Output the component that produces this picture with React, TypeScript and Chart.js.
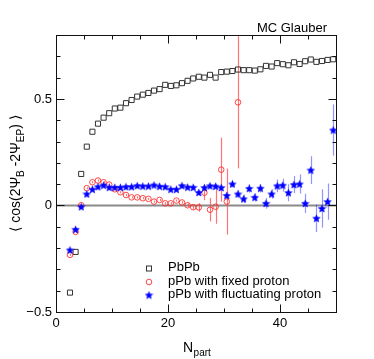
import React, { useEffect, useRef } from 'react';
import { Chart, registerables } from 'chart.js';

Chart.register(...registerables);

// ---- data ----
const NPART = [
  2.5, 3.5, 4.5, 5.5, 6.5, 7.5, 8.5, 9.5, 10.5, 11.5, 12.5, 13.5, 14.5, 15.5, 16.5, 17.5,
  18.5, 19.5, 20.5, 21.5, 22.5, 23.5, 24.5, 25.5, 26.5, 27.5, 28.5, 29.5, 30.5, 31.5, 32.5, 33.5,
  34.5, 35.5, 36.5, 37.5, 38.5, 39.5, 40.5, 41.5, 42.5, 43.5, 44.5, 45.5, 46.5, 47.5, 48.5, 49.5,
];

const PBPB = [
  -0.409, -0.218, 0.148, 0.276, 0.346, 0.384, 0.412, 0.433, 0.455, 0.459, 0.48, 0.495, 0.511, 0.52, 0.528, 0.539,
  0.546, 0.566, 0.561, 0.564, 0.574, 0.585, 0.596, 0.604, 0.6, 0.613, 0.6, 0.626, 0.628, 0.631, 0.638, 0.635,
  0.635, 0.633, 0.639, 0.655, 0.652, 0.668, 0.663, 0.658, 0.672, 0.664, 0.677, 0.685, 0.674, 0.678, 0.683, 0.686,
];

const PPB_FIXED = [
  -0.232, -0.124, 0.001, 0.081, 0.109, 0.117, 0.109, 0.098, 0.076, 0.062, 0.049, 0.038, 0.038, 0.034, 0.031, 0.018,
  0.026, 0.01, 0.01, 0.023, 0.014, 0.001, -0.008, -0.009, 0.06, -0.02, -0.006, 0.168, 0.018, null, 0.484,
];
const PPB_FIXED_ERR = [
  0.005, 0.005, 0.005, 0.005, 0.005, 0.005, 0.005, 0.005, 0.005, 0.005, 0.005, 0.005, 0.005, 0.005, 0.005, 0.005,
  0.005, 0.005, 0.005, 0.005, 0.006, 0.008, 0.01, 0.02, 0.035, 0.055, 0.08, 0.15, 0.155, 0, 0.31,
];

const PPB_FLUCT = [
  -0.209, -0.112, -0.006, 0.054, 0.076, 0.088, 0.095, 0.085, 0.085, 0.085, 0.088, 0.088, 0.093, 0.091, 0.091, 0.096,
  0.09, 0.088, 0.076, 0.076, 0.093, 0.086, 0.085, 0.061, 0.084, 0.092, 0.09, 0.084, 0.047, 0.101, 0.054, 0.031,
  0.08, 0.038, 0.081, 0.01, 0.054, 0.092, 0.095, 0.06, 0.098, 0.101, 0.01, 0.166, -0.06, -0.014, 0.018, 0.354,
];
const PPB_FLUCT_ERR = [
  0.005, 0.005, 0.005, 0.005, 0.005, 0.005, 0.005, 0.005, 0.005, 0.005, 0.005, 0.005, 0.005, 0.005, 0.005, 0.005,
  0.005, 0.005, 0.006, 0.006, 0.007, 0.008, 0.008, 0.01, 0.01, 0.01, 0.012, 0.012, 0.015, 0.015, 0.018, 0.02,
  0.02, 0.02, 0.02, 0.025, 0.022, 0.03, 0.03, 0.04, 0.04, 0.045, 0.045, 0.065, 0.065, 0.09, 0.085, 0.12,
];

const X_MAJOR = [0, 20, 40];
const X_LABELS = ['0', '20', '40'];
const Y_MAJOR = [-0.5, 0, 0.5];
const Y_LABELS = ['\u22120.5', '0', '0.5'];

const LEGEND_LABELS = ['PbPb', 'pPb with fixed proton', 'pPb with fluctuating proton'];
const TITLE = 'MC Glauber';

const FONT = "'Liberation Sans', Arial, Helvetica, sans-serif";
const RED = 'rgba(255,40,40,0.85)';
const RED_BAR = 'rgba(255,70,70,0.75)';
const BLUE = '#0000ff';
const BLUE_BAR = 'rgba(60,60,255,0.55)';
const GREY = '#333333';

function makeStar(size: number, color: string) {
  const c = document.createElement('canvas');
  c.width = size;
  c.height = size;
  const g = c.getContext('2d')!;
  const cx = size / 2;
  const cy = size / 2 + 0.4;
  const R = size / 2;
  const r = R * 0.45;
  g.beginPath();
  for (let i = 0; i < 10; i++) {
    const a = -Math.PI / 2 + (i * Math.PI) / 5;
    const rr = i % 2 ? r : R;
    g.lineTo(cx + rr * Math.cos(a), cy + rr * Math.sin(a));
  }
  g.closePath();
  g.fillStyle = color;
  g.fill();
  return c;
}

const decorPlugin = {
  id: 'decor',
  beforeDatasetsDraw(chart: any) {
    const { ctx, chartArea: a, scales } = chart;
    const x = scales.x;
    const y = scales.y;
    ctx.save();
    ctx.beginPath();
    ctx.rect(a.left, a.top, a.right - a.left, a.bottom - a.top);
    ctx.clip();
    // zero line
    const y0 = y.getPixelForValue(0);
    ctx.strokeStyle = '#8a8a8a';
    ctx.lineWidth = 2;
    ctx.beginPath();
    ctx.moveTo(a.left, y0);
    ctx.lineTo(a.right, y0);
    ctx.stroke();
    // error bars
    chart.data.datasets.forEach((ds: any) => {
      if (!ds.errors) return;
      ctx.strokeStyle = ds.errorColor;
      ctx.lineWidth = 1.2;
      ds.data.forEach((p: any, i: number) => {
        const e = ds.errors[i];
        if (p.y == null || !e) return;
        const px = Math.round(x.getPixelForValue(p.x)) + 0.5;
        ctx.beginPath();
        ctx.moveTo(px, y.getPixelForValue(p.y - e));
        ctx.lineTo(px, y.getPixelForValue(p.y + e));
        ctx.stroke();
      });
    });
    ctx.restore();
  },
  afterDatasetsDraw(chart: any) {
    const { ctx, chartArea: a, scales } = chart;
    const x = scales.x;
    const y = scales.y;
    ctx.save();
    ctx.strokeStyle = '#111';
    ctx.lineWidth = 1;
    const L = Math.round(a.left) + 0.5;
    const R = Math.round(a.right) + 0.5;
    const T = Math.round(a.top) + 0.5;
    const B = Math.round(a.bottom) + 0.5;
    ctx.strokeRect(L, T, R - L, B - T);
    ctx.beginPath();
    for (let v = 0; v <= 50; v += 5) {
      const px = Math.round(x.getPixelForValue(v)) + 0.5;
      const len = v % 20 === 0 ? 8 : 4;
      ctx.moveTo(px, B);
      ctx.lineTo(px, B - len);
      ctx.moveTo(px, T);
      ctx.lineTo(px, T + len);
    }
    for (let k = -5; k <= 8; k++) {
      const py = Math.round(y.getPixelForValue(k / 10)) + 0.5;
      const len = k % 5 === 0 ? 8 : 4;
      ctx.moveTo(L, py);
      ctx.lineTo(L + len, py);
      ctx.moveTo(R, py);
      ctx.lineTo(R - len, py);
    }
    ctx.stroke();
    ctx.restore();
  },
  afterDraw(chart: any) {
    const { ctx, chartArea: a } = chart;
    ctx.save();
    ctx.fillStyle = '#000';
    // title
    ctx.font = `13px ${FONT}`;
    ctx.textAlign = 'right';
    ctx.textBaseline = 'alphabetic';
    ctx.fillText(TITLE, a.right - 9, 31.5);

    // legend
    const lx = 149;
    const tx = 168;
    const rows = [267.5, 281, 294];
    ctx.textAlign = 'left';
    ctx.textBaseline = 'middle';
    LEGEND_LABELS.forEach((lab, i) => {
      const ry = rows[i];
      ctx.fillStyle = '#000';
      ctx.fillText(lab, tx, ry);
      const my = ry + 1;
      if (i === 0) {
        ctx.strokeStyle = GREY;
        ctx.lineWidth = 1;
        ctx.strokeRect(lx - 2.5, my - 2.5, 5, 5);
      } else if (i === 1) {
        ctx.strokeStyle = RED;
        ctx.lineWidth = 1;
        ctx.beginPath();
        ctx.arc(lx, my, 2.8, 0, Math.PI * 2);
        ctx.stroke();
      } else {
        const s = chart.data.datasets[0].pointStyle;
        ctx.drawImage(s, lx - s.width / 2, my - s.height / 2);
      }
    });

    // x title
    ctx.fillStyle = '#000';
    ctx.textAlign = 'left';
    ctx.textBaseline = 'alphabetic';
    ctx.font = `14px ${FONT}`;
    const nx = 183;
    ctx.fillText('N', nx, 351.5);
    const nw = ctx.measureText('N').width;
    ctx.font = `10px ${FONT}`;
    ctx.fillText('part', nx + nw + 0.5, 356);

    // y title (rotated)
    ctx.save();
    ctx.translate(19.5, (a.top + a.bottom) / 2);
    ctx.rotate(-Math.PI / 2);
    const segs: [string, boolean][] = [
      ['\u27E8 cos(2\u03A8', false],
      ['B', true],
      [' -2\u03A8', false],
      ['EP', true],
      [') \u27E9', false],
    ];
    const mainF = `14px ${FONT}`;
    const subF = `10px ${FONT}`;
    let total = 0;
    segs.forEach(([t, sub]) => {
      ctx.font = sub ? subF : mainF;
      total += ctx.measureText(t).width;
    });
    let cx = -total / 2;
    segs.forEach(([t, sub]) => {
      ctx.font = sub ? subF : mainF;
      ctx.fillText(t, cx, sub ? 4.5 : 0);
      cx += ctx.measureText(t).width;
    });
    ctx.restore();
    ctx.restore();
  },
};

export default function App() {
  const ref = useRef<HTMLCanvasElement | null>(null);

  useEffect(() => {
    document.body.style.margin = '0';
    const canvas = ref.current;
    if (!canvas) return;
    const star = makeStar(9, BLUE);

    const chart = new Chart(canvas, {
      type: 'scatter',
      data: {
        datasets: [
          {
            label: LEGEND_LABELS[2],
            data: NPART.map((x, i) => ({ x, y: PPB_FLUCT[i] })),
            errors: PPB_FLUCT_ERR,
            errorColor: BLUE_BAR,
            pointStyle: star,
            pointRadius: 4.5,
            order: 0,
          } as any,
          {
            label: LEGEND_LABELS[1],
            data: PPB_FIXED.map((v, i) => ({ x: NPART[i], y: v })),
            errors: PPB_FIXED_ERR,
            errorColor: RED_BAR,
            pointStyle: 'circle',
            pointRadius: 2.8,
            borderColor: RED,
            backgroundColor: 'rgba(0,0,0,0)',
            borderWidth: 1,
            order: 1,
          } as any,
          {
            label: LEGEND_LABELS[0],
            data: NPART.map((x, i) => ({ x, y: PBPB[i] })),
            pointStyle: 'rect',
            pointRadius: 3.6,
            borderColor: GREY,
            backgroundColor: 'rgba(0,0,0,0)',
            borderWidth: 1,
            order: 2,
          } as any,
        ],
      },
      options: {
        responsive: false,
        animation: false,
        layout: { padding: { top: 35, right: 38, left: 0, bottom: 0 } },
        plugins: { legend: { display: false }, tooltip: { enabled: false } },
        scales: {
          x: {
            type: 'linear',
            min: 0,
            max: 50,
            grid: { display: false, drawTicks: false },
            border: { display: false },
            afterFit: (s: any) => {
              s.height = 47;
            },
            ticks: {
              stepSize: 5,
              autoSkip: false,
              maxRotation: 0,
              padding: 4,
              color: '#000',
              font: { family: FONT, size: 13 },
              callback: (v: any) => {
                const i = X_MAJOR.findIndex((m) => Math.abs(m - Number(v)) < 1e-6);
                return i >= 0 ? X_LABELS[i] : '';
              },
            },
          },
          y: {
            type: 'linear',
            min: -0.5,
            max: 0.8,
            grid: { display: false, drawTicks: false },
            border: { display: false },
            afterFit: (s: any) => {
              s.width = 56;
            },
            ticks: {
              stepSize: 0.1,
              autoSkip: false,
              padding: 4,
              color: '#000',
              font: { family: FONT, size: 13 },
              callback: (v: any) => {
                const i = Y_MAJOR.findIndex((m) => Math.abs(m - Number(v)) < 1e-6);
                return i >= 0 ? Y_LABELS[i] : '';
              },
            },
          },
        },
      } as any,
      plugins: [decorPlugin],
    });
    return () => chart.destroy();
  }, []);

  return (
    <div style={{ position: 'fixed', left: 0, top: 0, width: 374, height: 359, background: '#fff' }}>
      <canvas ref={ref} width={374} height={359} style={{ width: 374, height: 359, display: 'block' }} />
    </div>
  );
}
